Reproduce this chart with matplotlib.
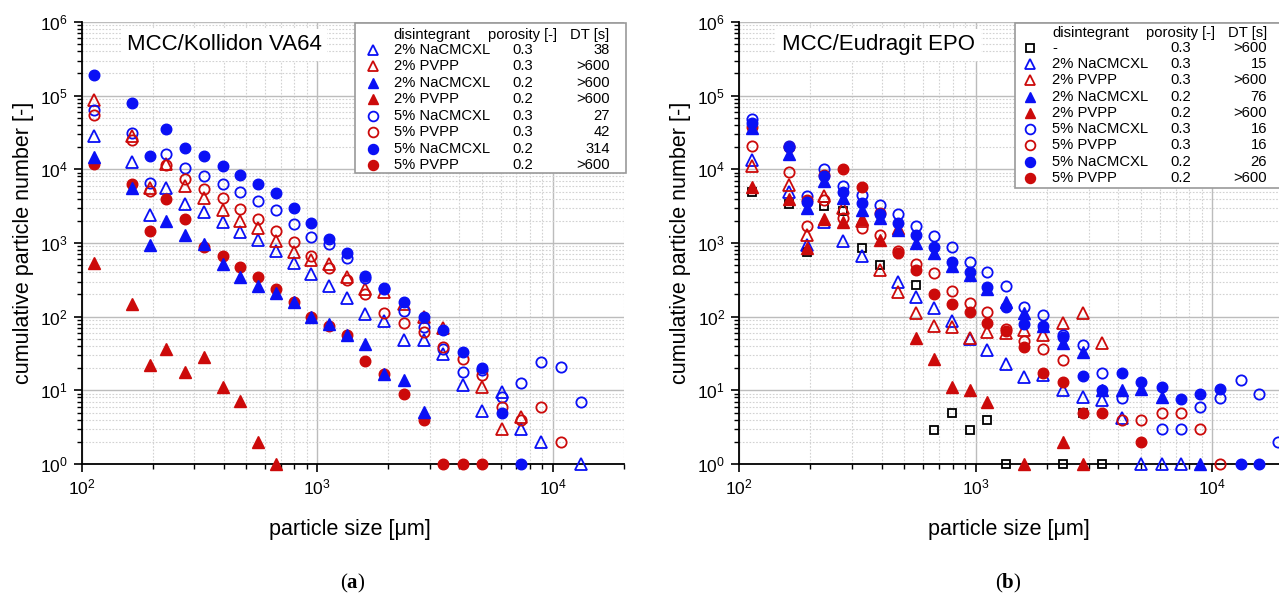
import numpy as np
import matplotlib
matplotlib.use("Agg")
import matplotlib.pyplot as plt
from matplotlib.lines import Line2D
from matplotlib.patches import Rectangle
from matplotlib.offsetbox import TextArea, HPacker, AnnotationBbox
from matplotlib.ticker import LogLocator, NullFormatter

plt.rcParams['font.family'] = ['Liberation Sans', 'DejaVu Sans']
plt.rcParams['mathtext.fontset'] = 'custom'
plt.rcParams['mathtext.rm'] = 'Liberation Sans'
plt.rcParams['mathtext.it'] = 'Liberation Sans:italic'
plt.rcParams['mathtext.bf'] = 'Liberation Sans:bold'

nan = np.nan

# ---------------- data ----------------
particle_size = [113, 163, 194, 229, 274, 330, 396, 470, 562, 668, 794, 944, 1120, 1340,
                 1600, 1920, 2340, 2850, 3430, 4150, 5010, 6100, 7350, 8900, 10800,
                 13150, 15700, 18900]

# (a) MCC/Kollidon VA64
a_2_nacmc_03 = [2.8e4, 1.25e4, 2.4e3, 5.6e3, 3.4e3, 2.6e3, 1.9e3, 1.4e3, 1.1e3, 770, 540, 380,
                260, 178, 108, 86, 48, 48, 31, 12, 5.2, 9.4, 3, 2, nan, 1]
a_2_pvpp_03 = [8.6e4, 2.8e4, 5.5e3, 1.2e4, 5.9e3, 4.1e3, 2.8e3, 2.0e3, 1.6e3, 1.05e3, 750, 590,
               520, 350, 235, 215, 150, 100, 70, nan, 11, 3, 4.3]
a_2_nacmc_02 = [1.47e4, 5.6e3, 930, 1.96e3, 1.3e3, 980, 520, 345, 262, 212, 160, 100, 80, 57,
                43, 16.5, 14, 5.1]
a_2_pvpp_02 = [540, 148, 22, 36, 18, 28, 11, 7.1, 2, 1]
a_5_nacmc_03 = [6.3e4, 3.1e4, 6.5e3, 1.6e4, 1.05e4, 8.2e3, 6.4e3, 4.9e3, 3.7e3, 2.8e3, 1.8e3,
                1.2e3, 980, 620, 330, 240, 120, 73, 36, 18, 19, 8, 12.6, 24.5, 21, 7]
a_5_pvpp_03 = [5.4e4, 2.5e4, 5.1e3, 1.15e4, 7.4e3, 5.4e3, 4.1e3, 2.9e3, 2.1e3, 1.47e3, 1.02e3,
               670, 455, 310, 200, 113, 81, 61, 39, 27, 16, 6, 3.9, 6, 2]
a_5_nacmc_02 = [1.9e5, 8e4, 1.5e4, 3.5e4, 1.96e4, 1.5e4, 1.12e4, 8.5e3, 6.4e3, 4.7e3, 3e3, 1.87e3,
                1.14e3, 730, 356, 245, 160, 100, 66, 33, 20, 4.9, 1]
a_5_pvpp_02 = [1.2e4, 6.3e3, 1.44e3, 3.9e3, 2.1e3, 880, 670, 465, 345, 240, 160, 100, 75, 57, 25,
               16.5, 8.8, 4, 1, 1, 1]

# (b) MCC/Eudragit EPO
b_none_03 = [4.9e3, 3.4e3, 760, 3.2e3, 2.7e3, 850, 505, nan, 265, 2.9, 4.9, 2.9, 4, 1, nan, nan,
             1, 4.9, 1]
b_2_nacmc_03 = [1.33e4, 5e3, 950, 1.9e3, 1.05e3, 660, nan, 300, 187, 130, 88, 50, 35, 23, 15, 16,
                10, 8.2, 7.4, 4.2, 1, 1, 1]
b_2_pvpp_03 = [1.12e4, 6.2e3, 1.3e3, 4.4e3, 3e3, 2.0e3, 430, 218, 113, 75, 72, 51, 62, 60, 66, 57,
               81, 111, 44]
b_2_nacmc_02 = [3.6e4, 1.6e4, 3e3, 6.9e3, 4.1e3, 2.8e3, 2.2e3, 1.5e3, 1e3, 730, 480, 370, 235,
                160, 111, 75, 44, 33, 10, 10, 10.3, 8.2, nan, 1]
b_2_pvpp_02 = [5.7e3, 3.9e3, 850, 2.1e3, 1.9e3, 2.1e3, 1.1e3, 1.6e3, 51, 27, 11, 10, 7, nan, 1,
               nan, 2, 1]
b_5_nacmc_03 = [4.8e4, 2.1e4, 4.3e3, 1e4, 6e3, 4.5e3, 3.3e3, 2.5e3, 1.7e3, 1.23e3, 870, 560, 400,
                262, 137, 106, 56, 41, 17, 7.8, nan, 3, 3, 6, 7.9, 13.8, 8.8, 2]
b_5_pvpp_03 = [2.06e4, 9.1e3, 1.7e3, 3.8e3, 2.2e3, 1.6e3, 1.3e3, 780, 525, 390, 220, 155, 116, 68,
               47, 36, 26, nan, nan, 4, 4, 4.9, 4.9, 3, 1]
b_5_nacmc_02 = [4.3e4, 2e4, 3.6e3, 8e3, 5e3, 3.5e3, 2.5e3, 1.87e3, 1.3e3, 890, 560, 400, 250, 134,
                80, 75, 53, 15.6, 10, 17.3, 13, 11, 7.7, 8.9, 10.3, 1, 1]
b_5_pvpp_02 = [3.7e4, 2e4, 3.8e3, 8.5e3, 1e4, 5.7e3, 2.55e3, 740, 435, 203, 147, 115, 83, 63, 39,
               17, 13, 4.9, 4.9, nan, 2]

legend_a_names = ["2% NaCMCXL", "2% PVPP", "2% NaCMCXL", "2% PVPP",
                  "5% NaCMCXL", "5% PVPP", "5% NaCMCXL", "5% PVPP"]
legend_a_porosity = ["0.3", "0.3", "0.2", "0.2", "0.3", "0.3", "0.2", "0.2"]
legend_a_dt = ["38", ">600", ">600", ">600", "27", "42", "314", ">600"]

legend_b_names = ["-", "2% NaCMCXL", "2% PVPP", "2% NaCMCXL", "2% PVPP",
                  "5% NaCMCXL", "5% PVPP", "5% NaCMCXL", "5% PVPP"]
legend_b_porosity = ["0.3", "0.3", "0.3", "0.2", "0.2", "0.3", "0.3", "0.2", "0.2"]
legend_b_dt = [">600", "15", ">600", "76", ">600", "16", "16", "26", ">600"]

titles = ["MCC/Kollidon VA64", "MCC/Eudragit EPO"]
panel_letters = ["a", "b"]

# ---------------- styles ----------------
BLUE = '#0a10f5'
RED = '#cc0a0a'
STY = {
    'sq':   dict(marker='s', color='black', filled=False, ms=6.3),
    'bto':  dict(marker='^', color=BLUE, filled=False, ms=8.2),
    'rto':  dict(marker='^', color=RED, filled=False, ms=8.2),
    'btf':  dict(marker='^', color=BLUE, filled=True, ms=8.2),
    'rtf':  dict(marker='^', color=RED, filled=True, ms=8.2),
    'bco':  dict(marker='o', color=BLUE, filled=False, ms=7.4),
    'rco':  dict(marker='o', color=RED, filled=False, ms=7.4),
    'bcf':  dict(marker='o', color=BLUE, filled=True, ms=7.6),
    'rcf':  dict(marker='o', color=RED, filled=True, ms=7.6),
}


def mkw(key):
    s = STY[key]
    return dict(marker=s['marker'], ms=s['ms'], linestyle='none',
                mfc=s['color'] if s['filled'] else 'none',
                mec=s['color'], mew=1.0 if s['filled'] else 1.3)


W, H = 1279, 601
fig = plt.figure(figsize=(W / 100, H / 100), dpi=100)


def fx(px):
    return px / W


def fy(py):
    return 1 - py / H


def setup_axes(left_px, decade_px):
    top_px, bot_px = 22, 464
    width_px = decade_px * np.log10(2e4 / 100)
    ax = fig.add_axes([fx(left_px), fy(bot_px), width_px / W, (bot_px - top_px) / H])
    ax.set_xscale('log')
    ax.set_yscale('log')
    ax.set_xlim(100, 2e4)
    ax.set_ylim(1, 1e6)
    ax.xaxis.set_major_locator(LogLocator(base=10, numticks=10))
    ax.xaxis.set_minor_locator(LogLocator(base=10, subs=np.arange(2, 10), numticks=20))
    ax.yaxis.set_major_locator(LogLocator(base=10, numticks=10))
    ax.yaxis.set_minor_locator(LogLocator(base=10, subs=np.arange(2, 10), numticks=20))
    ax.xaxis.set_minor_formatter(NullFormatter())
    ax.yaxis.set_minor_formatter(NullFormatter())
    ax.grid(True, which='major', color='#bcbcbc', lw=1.0, ls='-')
    ax.grid(True, which='minor', color='#d2d2d2', lw=0.8, ls=(0, (1.5, 1.5)))
    ax.set_axisbelow(True)
    for sp in ['top', 'right']:
        ax.spines[sp].set_visible(False)
    for sp in ['left', 'bottom']:
        ax.spines[sp].set_linewidth(1.3)
        ax.spines[sp].set_color('black')
    ax.tick_params(which='major', direction='out', length=6, width=1.2, labelsize=12.5,
                   pad=4, colors='black')
    ax.tick_params(which='minor', direction='out', length=3.5, width=1.0)
    ax.set_xlabel("particle size [\u03bcm]", fontsize=15.5)
    ax.set_ylabel("cumulative particle number [-]", fontsize=15.5)
    ax.xaxis.set_label_coords(0.495, -0.125)
    ax.yaxis.set_label_coords(-0.088, 0.5)
    return ax


def plot_series(ax, values, key):
    n = len(values)
    ax.plot(particle_size[:n], values, clip_on=False, zorder=3, **mkw(key))


# ---------------- panel (a) ----------------
ax1 = setup_axes(81.7, 235.6)
for vals, key in [(a_2_nacmc_03, 'bto'), (a_2_pvpp_03, 'rto'), (a_5_nacmc_03, 'bco'),
                  (a_5_pvpp_03, 'rco'), (a_2_pvpp_02, 'rtf'), (a_5_pvpp_02, 'rcf'),
                  (a_5_nacmc_02, 'bcf'), (a_2_nacmc_02, 'btf')]:
    plot_series(ax1, vals, key)
ax1.text(0.083, 0.948, titles[0], transform=ax1.transAxes, fontsize=16, ha='left', va='center',
         bbox=dict(facecolor='white', edgecolor='none', pad=4), zorder=5)

# ---------------- panel (b) ----------------
ax2 = setup_axes(739, 236.7)
for vals, key in [(b_none_03, 'sq'), (b_2_nacmc_03, 'bto'), (b_2_pvpp_03, 'rto'),
                  (b_5_nacmc_03, 'bco'), (b_5_pvpp_03, 'rco'), (b_2_pvpp_02, 'rtf'),
                  (b_5_pvpp_02, 'rcf'), (b_5_nacmc_02, 'bcf'), (b_2_nacmc_02, 'btf')]:
    plot_series(ax2, vals, key)
ax2.text(0.079, 0.948, titles[1], transform=ax2.transAxes, fontsize=16, ha='left', va='center',
         bbox=dict(facecolor='white', edgecolor='none', pad=4), zorder=5)


# ---------------- table-like legends ----------------
def draw_legend(box, keys, names, poro, dts, header_y, row0, dy, mx, nx, px_, dx):
    x0, y0, x1, y1 = box
    fig.add_artist(Rectangle((fx(x0), fy(y1)), fx(x1) - fx(x0), fy(y0) - fy(y1),
                             transform=fig.transFigure, facecolor='white',
                             edgecolor='#9a9a9a', lw=1.2, zorder=10))
    fs = 10.6
    fig.text(fx(nx), fy(header_y), "disintegrant", fontsize=fs, ha='left', va='center', zorder=11)
    fig.text(fx(px_), fy(header_y), "porosity [-]", fontsize=fs, ha='center', va='center', zorder=11)
    fig.text(fx(dx), fy(header_y), "DT [s]", fontsize=fs, ha='right', va='center', zorder=11)
    for i, (k, nm, po, dt) in enumerate(zip(keys, names, poro, dts)):
        yy = row0 + i * dy
        kw = mkw(k)
        kw['ms'] = kw['ms'] * 0.95
        fig.add_artist(Line2D([fx(mx)], [fy(yy)], transform=fig.transFigure, zorder=11, **kw))
        fig.text(fx(nx), fy(yy), nm, fontsize=fs, ha='left', va='center', zorder=11)
        fig.text(fx(px_), fy(yy), po, fontsize=fs, ha='center', va='center', zorder=11)
        fig.text(fx(dx), fy(yy), dt, fontsize=fs, ha='right', va='center', zorder=11)


draw_legend((355, 23, 626, 173), ['bto', 'rto', 'btf', 'rtf', 'bco', 'rco', 'bcf', 'rcf'],
            legend_a_names, legend_a_porosity, legend_a_dt,
            header_y=35.5, row0=50, dy=16.45, mx=373, nx=393.5, px_=522.5, dx=609.5)
draw_legend((1015, 23, 1290, 188), ['sq', 'bto', 'rto', 'btf', 'rtf', 'bco', 'rco', 'bcf', 'rcf'],
            legend_b_names, legend_b_porosity, legend_b_dt,
            header_y=32.5, row0=47.8, dy=16.25, mx=1030, nx=1052.5, px_=1181, dx=1267)


# ---------------- panel letters ----------------
def panel_label(letter, xpx, ypx):
    fs = 15
    parts = [TextArea("(", textprops=dict(fontsize=fs, family='Liberation Serif')),
             TextArea(letter, textprops=dict(fontsize=fs, family='Liberation Serif', weight='bold')),
             TextArea(")", textprops=dict(fontsize=fs, family='Liberation Serif'))]
    pack = HPacker(children=parts, align='baseline', pad=0, sep=0)
    ab = AnnotationBbox(pack, (fx(xpx), fy(ypx)), xycoords='figure fraction', frameon=False,
                        box_alignment=(0.5, 0.5))
    fig.add_artist(ab)


panel_label(panel_letters[0], 352, 583)
panel_label(panel_letters[1], 1008, 583)

fig.savefig("out.png", dpi=100)
